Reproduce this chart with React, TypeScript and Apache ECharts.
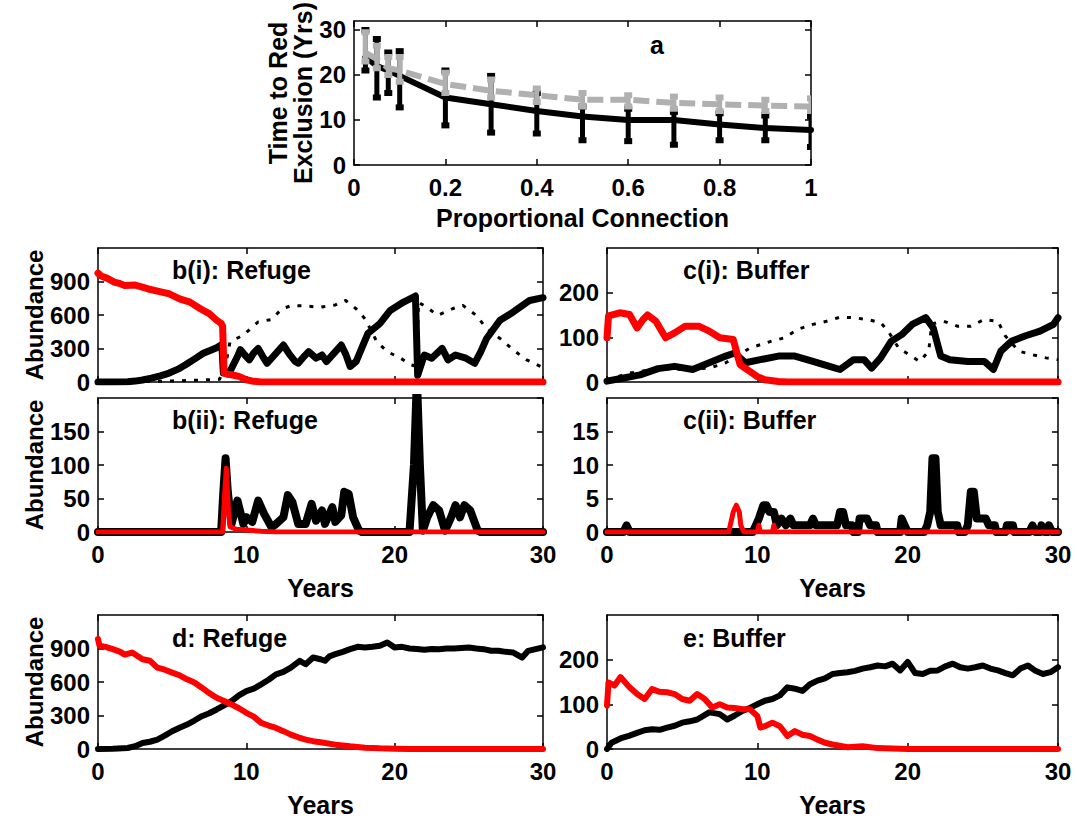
import React, { useEffect, useRef } from 'react';
import * as echarts from 'echarts';

// ---------- Panel a ----------
const conn = [0.025, 0.05, 0.075, 0.1, 0.2, 0.3, 0.4, 0.5, 0.6, 0.7, 0.8, 0.9, 1.0];
const blackMean = [24, 22, 21, 19.8, 15, 13.5, 12, 10.8, 10, 10, 9, 8.2, 7.8];
const blackLow = [21, 15, 16, 12.8, 8.8, 7.2, 7, 5.5, 5.3, 4.5, 5.5, 5.5, 4];
const blackHigh = [30, 28, 25, 25.3, 21, 19.8, 16, 13, 12.5, 11.8, 11.5, 11, 10.8];
const grayMean = [25, 23.5, 21.5, 21, 18, 16.5, 15.5, 14.5, 14.5, 13.8, 13.5, 13.2, 13];
const grayLow = [23, 21.5, 20, 18.5, 16, 15, 14, 13, 13, 12.5, 12, 12, 12];
const grayHigh = [29.5, 26.5, 24, 24, 20.5, 19, 17, 16, 15.5, 15.2, 15, 14.5, 14.8];

// ---------- b(i): Refuge ----------
const biRed = [[0,975],[0.2,950],[0.6,930],[1.1,895],[1.5,880],[1.8,865],[2.5,868],[3,850],[3.4,833],[4.3,805],[4.8,790],[5.5,745],[6.2,715],[6.9,656],[7.5,612],[8.0,553],[8.3,525],[8.4,500],[8.5,80],[8.7,70],[9.0,65],[9.5,50],[10,20],[10.5,6],[11,1],[12,0],[30,0]];
const biBlack = [[0,0],[1,0],[2,3],[2.5,8],[3,18],[3.6,35],[4.2,55],[4.8,80],[5.4,115],[5.9,154],[6.5,205],[7.1,257],[7.6,285],[8.0,307],[8.35,335],[8.45,80],[8.9,95],[9.4,228],[9.6,290],[9.8,257],[10.2,198],[10.5,260],[10.8,301],[11.1,230],[11.4,168],[11.9,242],[12.5,331],[12.9,250],[13.3,183],[13.5,168],[13.9,230],[14.2,272],[14.7,213],[15.1,242],[15.4,183],[15.9,257],[16.4,331],[16.7,250],[17.0,139],[17.4,183],[17.8,310],[18.2,435],[19.0,523],[19.7,641],[20.6,716],[21.4,770],[21.55,60],[22.0,242],[22.5,213],[23.2,301],[23.6,198],[24.1,242],[24.8,213],[25.4,168],[25.8,270],[26.2,390],[27.1,553],[28.0,627],[29.1,730],[30,755]];
const biDot = [[0,0],[3.5,5],[5,10],[6.5,15],[8.2,25],[8.6,150],[8.9,360],[9.8,420],[10.8,538],[11.7,560],[12.4,656],[13.1,686],[14,680],[15,670],[16,690],[16.7,730],[17.4,656],[18.0,567],[18.8,360],[19.5,272],[20.4,213],[21.1,154],[21.5,140],[21.6,716],[22.3,656],[22.9,597],[23.9,656],[24.6,686],[25.5,597],[26.2,479],[27.1,390],[28.0,287],[28.9,198],[30,130]];

// ---------- c(i): Buffer ----------
const ciRed = [[0,99],[0.1,148],[0.85,155],[1.5,151],[2.0,121],[2.4,140],[2.7,150],[3.25,136],[3.9,99],[4.5,110],[5.2,125],[6.1,125],[6.8,114],[7.5,99],[8.4,95],[8.6,70],[8.85,39],[9.5,24],[10.0,12],[10.5,5],[11.4,1],[12,0],[30,0]];
const ciBlack = [[0,2],[1.1,9],[2.2,16],[3.4,30],[4.5,35],[5.7,28],[6.8,43],[7.9,58],[8.5,65],[9.2,43],[10.2,50],[11.4,58],[12.5,58],[13.7,46],[14.8,35],[15.5,28],[16.4,50],[17.1,50],[17.6,31],[18.2,54],[18.9,91],[19.6,106],[20.3,129],[21.2,144],[21.7,121],[22.2,58],[22.8,50],[24.0,46],[25.1,46],[25.7,28],[26.2,69],[26.9,91],[27.8,103],[28.8,114],[29.7,129],[30,144]];
const ciDot = [[0,5],[1.5,20],[3.4,30],[5,28],[6.8,31],[7.9,43],[9.5,76],[10.9,91],[11.8,99],[12.7,118],[13.7,129],[14.6,136],[15.5,145],[16.4,144],[17.3,140],[18.2,133],[18.7,114],[19.4,76],[20.1,61],[20.8,46],[21.4,69],[21.6,130],[22.4,136],[23.3,125],[24.2,125],[25.1,140],[26.0,136],[26.5,103],[27.4,69],[28.3,61],[29.2,54],[30,50]];

// ---------- b(ii): Refuge ----------
const biiBlack = [[0,0],[8.3,0],[8.45,60],[8.6,110],[8.75,60],[9.0,12],[9.4,47],[9.8,12],[10.0,22],[10.4,15],[10.8,47],[11.2,27],[11.7,7],[12.0,12],[12.5,22],[12.8,55],[13.1,45],[13.5,12],[14.0,12],[14.4,42],[14.7,17],[15.1,32],[15.3,12],[15.8,37],[16.0,15],[16.4,25],[16.6,60],[16.9,57],[17.2,22],[17.6,2],[17.8,0],[21.0,0],[21.3,100],[21.5,230],[21.7,100],[21.9,2],[22.2,22],[22.6,40],[23.0,32],[23.4,2],[23.8,22],[24.1,40],[24.4,22],[24.7,40],[25.1,32],[25.6,2],[25.8,0],[30,0]];
const biiRed = [[0,0],[8.4,0],[8.55,60],[8.65,95],[8.8,30],[8.9,8],[9.3,4],[10,3],[11,1],[12,0],[30,0]];

// ---------- c(ii): Buffer ----------
const ciiBlack = [[0,0],[1.1,0],[1.3,1],[1.5,0],[9.7,0],[9.9,1],[10.1,2],[10.4,4],[10.6,4],[10.8,3],[11.1,3],[11.3,1],[11.6,2],[11.9,1],[12.2,2],[12.4,1],[13.5,1],[13.7,2],[13.9,1],[15.3,1],[15.5,3],[15.7,3],[15.9,1],[16.3,1],[16.4,0],[16.7,0],[16.8,2],[17.3,2],[17.5,1],[17.9,1],[18.0,0],[19.5,0],[19.6,2],[19.8,1],[20.0,0],[21.1,0],[21.3,1],[21.5,3],[21.65,11],[21.85,11],[22.0,3],[22.2,1],[23.3,1],[23.4,0],[23.8,0],[24.0,1],[24.2,6],[24.4,6],[24.6,2],[25.2,2],[25.4,1],[25.8,1],[25.9,0],[26.5,0],[26.6,1],[27.0,1],[27.1,0],[28.1,0],[28.3,1],[28.5,0],[28.8,0],[28.9,1],[29.1,0],[29.3,0],[29.4,1],[29.6,0],[30,0]];
const ciiRed = [[0,0],[8.1,0],[8.2,1],[8.4,3],[8.6,4],[8.8,3],[8.9,1],[9.1,0],[10.0,0],[10.1,1],[10.2,0],[11.0,0],[11.1,1],[11.2,0],[30,0]];

// ---------- d: Refuge ----------
const dRed = [[0,985],[0.1,925],[0.5,915],[1,894],[1.5,870],[1.8,845],[2.3,864],[3,804],[3.5,790],[4,729],[4.5,710],[5,684],[5.5,660],[6,624],[6.5,595],[7,549],[7.5,500],[8,459],[8.5,430],[9,399],[9.5,365],[10,324],[10.5,290],[11,234],[11.5,210],[12,189],[12.5,160],[13,129],[13.5,105],[14,84],[14.5,70],[15,60],[16,39],[17,24],[18,12],[19,6],[20,3],[21,1],[22,0],[30,0]];
const dBlack = [[0,0],[1,3],[2,9],[2.5,25],[3,54],[3.5,65],[4,84],[4.5,120],[5,159],[5.5,190],[6,219],[6.5,255],[7,294],[7.5,320],[8,354],[8.5,390],[9,429],[9.5,480],[10,519],[10.5,540],[11,579],[11.5,620],[12,669],[12.5,690],[13,729],[13.6,789],[14,759],[14.5,819],[15,804],[15.3,790],[15.6,830],[16,849],[16.5,870],[17,894],[17.5,915],[18,909],[18.5,915],[19,924],[19.5,954],[20,909],[20.5,915],[21,900],[21.5,895],[22,888],[22.5,895],[23,894],[23.5,900],[24,900],[24.5,905],[25,909],[25.5,900],[26,894],[26.5,880],[27,879],[27.5,870],[28,864],[28.6,819],[29,879],[29.5,895],[30,910]];

// ---------- e: Buffer ----------
const eRed = [[0,97],[0.1,149],[0.5,142],[0.9,161],[1.5,138],[2,123],[2.5,112],[3,134],[3.5,128],[4,127],[4.5,123],[5,112],[5.5,108],[6,123],[6.5,112],[7,93],[7.5,100],[8,93],[8.5,92],[9,89],[9.5,89],[10,74],[10.2,48],[10.5,51],[11,59],[11.5,51],[12,29],[12.5,40],[13,32],[13.5,29],[14,21],[14.5,14],[15,10],[16,4],[17,6],[18,2],[19,1],[20,0],[30,0]];
const eBlack = [[0,0],[0.3,14],[1,25],[1.5,30],[2,36],[2.5,42],[3,44],[3.5,43],[4,48],[4.5,52],[5,59],[5.5,62],[6,66],[6.8,82],[7.5,78],[8,66],[8.5,75],[9,85],[9.5,92],[10,100],[10.5,108],[11,112],[11.5,120],[12,138],[12.5,135],[13,130],[13.5,145],[14,153],[14.5,158],[15,168],[15.5,170],[16,172],[16.5,175],[17,180],[17.5,183],[18,187],[18.5,185],[19,191],[19.5,176],[20,195],[20.5,170],[21,168],[21.5,175],[22,176],[22.5,185],[23,191],[23.5,183],[24,180],[24.5,183],[25,187],[25.5,180],[26,176],[26.5,170],[27,165],[27.5,180],[28,187],[28.5,175],[29,168],[29.5,172],[30,183]];

const panelTitles = ['a', 'b(i): Refuge', 'c(i): Buffer', 'b(ii): Refuge', 'c(ii): Buffer', 'd: Refuge', 'e: Buffer'];

const FONT = "'Liberation Sans', Arial, Helvetica, sans-serif";
const RED = '#ff0000';
const GRAY = '#b0b0b0';

const grids = [
  { left: 354, top: 17, width: 457, height: 148 },
  { left: 98, top: 248, width: 445, height: 134 },
  { left: 607, top: 248, width: 451, height: 134 },
  { left: 98, top: 398, width: 445, height: 134 },
  { left: 607, top: 398, width: 451, height: 134 },
  { left: 98, top: 615, width: 445, height: 134 },
  { left: 607, top: 615, width: 451, height: 134 },
];

type Spec = { xmin: number; xmax: number; xint: number; ymax: number; yint: number; xLabels: boolean; xName: string; yName: string };
const specs: Spec[] = [
  { xmin: 0, xmax: 1, xint: 0.2, ymax: 32, yint: 10, xLabels: true, xName: 'Proportional Connection', yName: 'Time to Red\nExclusion (Yrs)' },
  { xmin: 0, xmax: 30, xint: 10, ymax: 1200, yint: 300, xLabels: false, xName: '', yName: 'Abundance' },
  { xmin: 0, xmax: 30, xint: 10, ymax: 300, yint: 100, xLabels: false, xName: '', yName: '' },
  { xmin: 0, xmax: 30, xint: 10, ymax: 200, yint: 50, xLabels: true, xName: 'Years', yName: 'Abundance' },
  { xmin: 0, xmax: 30, xint: 10, ymax: 20, yint: 5, xLabels: true, xName: 'Years', yName: '' },
  { xmin: 0, xmax: 30, xint: 10, ymax: 1200, yint: 300, xLabels: true, xName: 'Years', yName: 'Abundance' },
  { xmin: 0, xmax: 30, xint: 10, ymax: 300, yint: 100, xLabels: true, xName: 'Years', yName: '' },
];

const tickFont = { fontFamily: FONT, fontSize: 24, fontWeight: 'bold' as const, color: '#000' };
const nameFont = { fontFamily: FONT, fontSize: 25, fontWeight: 'bold' as const, color: '#000' };
const lineStyleAxis = { color: '#000', width: 1.5 };

function buildAxes() {
  const xAxis: any[] = [];
  const yAxis: any[] = [];
  specs.forEach((s, i) => {
    const commonX = {
      type: 'value', gridIndex: i, min: s.xmin, max: s.xmax, interval: s.xint,
      splitLine: { show: false },
      axisLine: { show: true, onZero: false, lineStyle: lineStyleAxis },
      axisTick: { show: true, inside: true, length: 6, lineStyle: lineStyleAxis },
    };
    xAxis.push({
      ...commonX, position: 'bottom',
      axisLabel: { show: s.xLabels, margin: 10, ...tickFont },
      name: s.xName, nameLocation: 'middle', nameGap: i === 0 ? 40 : 43, nameTextStyle: nameFont,
    });
    xAxis.push({ ...commonX, position: 'top', axisLabel: { show: false } });
    const commonY = {
      type: 'value', gridIndex: i, min: 0, max: s.ymax, interval: s.yint,
      splitLine: { show: false },
      axisLine: { show: true, onZero: false, lineStyle: lineStyleAxis },
      axisTick: { show: true, inside: true, length: 6, lineStyle: lineStyleAxis },
    };
    yAxis.push({
      ...commonY, position: 'left',
      axisLabel: { show: true, margin: 8, showMaxLabel: false, ...tickFont },
      name: s.yName, nameLocation: 'middle', nameRotate: 90, nameGap: i === 0 ? 38 : 52,
      nameTextStyle: i === 0 ? { ...nameFont, lineHeight: 25 } : { ...nameFont, fontSize: 24 },
    });
    yAxis.push({ ...commonY, position: 'right', axisLabel: { show: false } });
  });
  return { xAxis, yAxis };
}

function line(panel: number, data: number[][], color: string, width: number, dotted = false, z = 2) {
  return {
    type: 'line', xAxisIndex: panel * 2, yAxisIndex: panel * 2, data,
    showSymbol: false, symbol: 'none', z,
    lineStyle: { color, width, type: dotted ? [4, 8] : 'solid', cap: dotted ? 'butt' : 'round', join: 'round' },
    clip: true,
  };
}

function errRender(color: string) {
  return (_params: any, api: any) => {
    const x = api.value(0);
    const lo = api.value(1);
    const hi = api.value(2);
    const p1 = api.coord([x, lo]);
    const p2 = api.coord([x, hi]);
    return {
      type: 'group',
      children: [
        { type: 'line', shape: { x1: p1[0], y1: p1[1], x2: p2[0], y2: p2[1] }, style: { stroke: color, lineWidth: 5 } },
        { type: 'rect', shape: { x: p1[0] - 4, y: p1[1] - 3, width: 8, height: 6 }, style: { fill: color } },
        { type: 'rect', shape: { x: p2[0] - 4, y: p2[1] - 3, width: 8, height: 6 }, style: { fill: color } },
      ],
    };
  };
}

function buildOption() {
  const { xAxis, yAxis } = buildAxes();
  const blackPts = conn.map((c, i) => [c, blackMean[i]]);
  const grayPts = conn.map((c, i) => [c, grayMean[i]]);
  const blackErr = conn.map((c, i) => [c, blackLow[i], blackHigh[i]]);
  const grayErr = conn.map((c, i) => [c, grayLow[i], grayHigh[i]]);

  const series: any[] = [
    { ...line(0, blackPts, '#000', 6), z: 2 },
    { type: 'custom', xAxisIndex: 0, yAxisIndex: 0, data: blackErr, renderItem: errRender('#000'), encode: { x: 0, y: [1, 2] }, z: 3, clip: true },
    { ...line(0, grayPts, GRAY, 6), lineStyle: { color: GRAY, width: 6, type: [16, 7] }, z: 4 },
    { type: 'custom', xAxisIndex: 0, yAxisIndex: 0, data: grayErr, renderItem: errRender(GRAY), encode: { x: 0, y: [1, 2] }, z: 5, clip: true },

    line(1, biDot, '#000', 3, true, 1),
    line(1, biBlack, '#000', 7, false, 2),
    line(1, biRed, RED, 7, false, 3),

    line(2, ciDot, '#000', 3, true, 1),
    line(2, ciBlack, '#000', 7, false, 2),
    line(2, ciRed, RED, 7, false, 3),

    line(3, biiBlack, '#000', 8, false, 2),
    line(3, biiRed, RED, 5, false, 3),

    line(4, ciiBlack, '#000', 8, false, 2),
    line(4, ciiRed, RED, 5, false, 3),

    line(5, dBlack, '#000', 6, false, 2),
    line(5, dRed, RED, 6, false, 3),

    line(6, eBlack, '#000', 6, false, 2),
    line(6, eRed, RED, 6, false, 3),
  ];

  const titlePos = [
    { left: 650, top: 32 },
    { left: 172, top: 257 },
    { left: 683, top: 257 },
    { left: 172, top: 407 },
    { left: 683, top: 407 },
    { left: 172, top: 625 },
    { left: 683, top: 625 },
  ];
  const title = panelTitles.map((t, i) => ({
    text: t, left: titlePos[i].left, top: titlePos[i].top, padding: 0,
    textStyle: { fontFamily: FONT, fontSize: 25, fontWeight: 'bold', color: '#000' },
  }));

  return {
    animation: false,
    backgroundColor: '#fff',
    title,
    grid: grids.map((g) => ({ ...g, containLabel: false })),
    xAxis,
    yAxis,
    series,
  };
}

export default function App() {
  const ref = useRef<HTMLDivElement>(null);
  useEffect(() => {
    const chart = echarts.init(ref.current!, null, { renderer: 'svg' });
    chart.setOption(buildOption() as any);
    return () => chart.dispose();
  }, []);
  return <div ref={ref} style={{ position: 'fixed', left: 0, top: 0, width: 1077, height: 821, background: '#fff' }} />;
}
